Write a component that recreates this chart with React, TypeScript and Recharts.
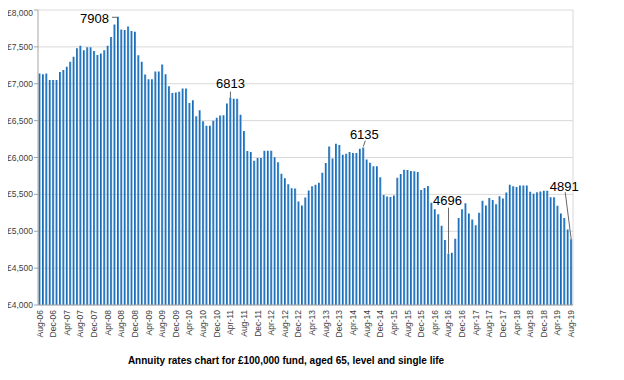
import React from 'react';
import { BarChart, Bar, XAxis, YAxis, CartesianGrid, LabelList } from 'recharts';

// monthly annuity income (£ per year) for a £100,000 fund
const monthNames = ['Jan', 'Feb', 'Mar', 'Apr', 'May', 'Jun', 'Jul', 'Aug', 'Sep', 'Oct', 'Nov', 'Dec'];

const rates2006 = [7140, 7130, 7140, 7050, 7050]; // Aug-Dec
const rates2007 = [7050, 7160, 7185, 7230, 7300, 7365, 7480, 7515, 7455, 7495, 7495, 7445];
const rates2008 = [7390, 7410, 7455, 7515, 7635, 7805, 7908, 7735, 7730, 7775, 7715, 7705];
const rates2009 = [7385, 7300, 7125, 7060, 7060, 7165, 7165, 7260, 7130, 6965, 6875, 6880];
const rates2010 = [6890, 6935, 6935, 6740, 6775, 6560, 6640, 6490, 6430, 6430, 6500, 6540];
const rates2011 = [6570, 6572, 6731, 6813, 6795, 6795, 6580, 6360, 6087, 6073, 5956, 5992];
const rates2012 = [5992, 6092, 6092, 6092, 6005, 5937, 5779, 5720, 5638, 5583, 5580, 5402];
const rates2013 = [5348, 5457, 5552, 5610, 5630, 5656, 5792, 5924, 6150, 5985, 6187, 6168];
const rates2014 = [6037, 6051, 6073, 6060, 6060, 6119, 6135, 5974, 5929, 5883, 5883, 5733];
const rates2015 = [5493, 5470, 5465, 5484, 5724, 5775, 5833, 5830, 5818, 5815, 5805, 5558];
const rates2016 = [5585, 5615, 5385, 5300, 5230, 5076, 4881, 4696, 4710, 4900, 5180, 5300];
const rates2017 = [5380, 5240, 5160, 5080, 5250, 5415, 5350, 5450, 5425, 5365, 5475, 5445];
const rates2018 = [5525, 5630, 5610, 5600, 5620, 5620, 5620, 5535, 5510, 5530, 5540, 5550];
const rates2019 = [5550, 5461, 5461, 5345, 5240, 5180, 5025, 4891]; // Jan-Aug

const yearly: [number, number, number[]][] = [
  [2006, 7, rates2006],
  [2007, 0, rates2007],
  [2008, 0, rates2008],
  [2009, 0, rates2009],
  [2010, 0, rates2010],
  [2011, 0, rates2011],
  [2012, 0, rates2012],
  [2013, 0, rates2013],
  [2014, 0, rates2014],
  [2015, 0, rates2015],
  [2016, 0, rates2016],
  [2017, 0, rates2017],
  [2018, 0, rates2018],
  [2019, 0, rates2019],
];

const yTicks = [4000, 4500, 5000, 5500, 6000, 6500, 7000, 7500, 8000];

const data = yearly.flatMap(([year, start, vals]) =>
  vals.map((v, i) => ({
    month: `${monthNames[start + i]}-${String(year).slice(2)}`,
    rate: v,
  }))
);

// callouts: text offset from bar top, leader line start/end
const callouts: Record<string, { tx: number; ty: number; anchor: string; lx: number; ly: number; ex: number; ey: number }> = {
  'Jul-08': { tx: -9, ty: 1.5, anchor: 'end', lx: -6, ly: 0.5, ex: -1, ey: 0.5 },
  'Apr-11': { tx: 0, ty: -14, anchor: 'middle', lx: 0, ly: -6, ex: 0, ey: 0 },
  'Jul-14': { tx: 1, ty: -13, anchor: 'middle', lx: 2, ly: -7, ex: 0, ey: -1 },
  'Aug-16': { tx: -1, ty: -53, anchor: 'middle', lx: 0, ly: -46, ex: 0, ey: 0 },
  'Aug-19': { tx: -7, ty: -52.5, anchor: 'middle', lx: -6, ly: -47, ex: 0, ey: 0 },
};

const Callout = (props: any) => {
  const { x, y, width, index, value } = props;
  const c = callouts[data[index]?.month];
  if (!c) return null;
  const cx = x + width / 2;
  return (
    <g>
      <line x1={cx + c.lx} y1={y + c.ly} x2={cx + c.ex} y2={y + c.ey} stroke="#404040" strokeWidth={0.8} />
      <text x={cx + c.tx} y={y + c.ty} dy="0.36em" textAnchor={c.anchor} fontSize={13} fill="#000">
        {value}
      </text>
    </g>
  );
};

const XTick = ({ x, y, payload }: any) => (
  <g transform={`translate(${x},${y})`}>
    <text transform="rotate(-90)" textAnchor="end" dy="0.33em" fontSize={8.5} fill="#404040">
      {payload.value}
    </text>
  </g>
);

const App: React.FC = () => (
  <div style={{ position: 'relative', width: 616, height: 364, fontFamily: 'Arial, "Liberation Sans", sans-serif' }}>
    <BarChart width={616} height={357} data={data} margin={{ top: 2, right: 51, bottom: 0, left: 0 }} barCategoryGap="18%">
      <defs>
        <linearGradient id="barFill" x1="0" y1="0" x2="1" y2="0">
          <stop offset="0%" stopColor="#12599e" />
          <stop offset="50%" stopColor="#2377c4" />
          <stop offset="100%" stopColor="#62a9e4" />
        </linearGradient>
      </defs>
      <CartesianGrid
        stroke="#d9d9d9"
        vertical={true}
        verticalCoordinatesGenerator={({ offset }: any) => [offset.left + offset.width]}
      />
      <XAxis
        dataKey="month"
        interval={3}
        tick={<XTick />}
        tickLine={false}
        tickSize={3}
        axisLine={{ stroke: '#a6a6a6' }}
        height={60}
      />
      <YAxis
        domain={[4000, 8000]}
        ticks={yTicks}
        tickFormatter={(v: number) => '£' + v.toLocaleString('en-GB')}
        tick={{ fontSize: 8.5, fill: '#404040' }}
        tickSize={4}
        tickMargin={1}
        tickLine={{ stroke: '#a6a6a6' }}
        axisLine={{ stroke: '#a6a6a6' }}
        width={30}
        allowDataOverflow
      />
      <Bar dataKey="rate" fill="url(#barFill)" isAnimationActive={false}>
        <LabelList dataKey="rate" content={<Callout />} />
      </Bar>
    </BarChart>
    <div
      style={{
        position: 'absolute',
        left: 0,
        width: 556,
        top: 347,
        textAlign: 'center',
        fontSize: 10,
        fontWeight: 'bold',
        color: '#000',
      }}
    >
      Annuity rates chart for £100,000 fund, aged 65, level and single life
    </div>
  </div>
);

export default App;
